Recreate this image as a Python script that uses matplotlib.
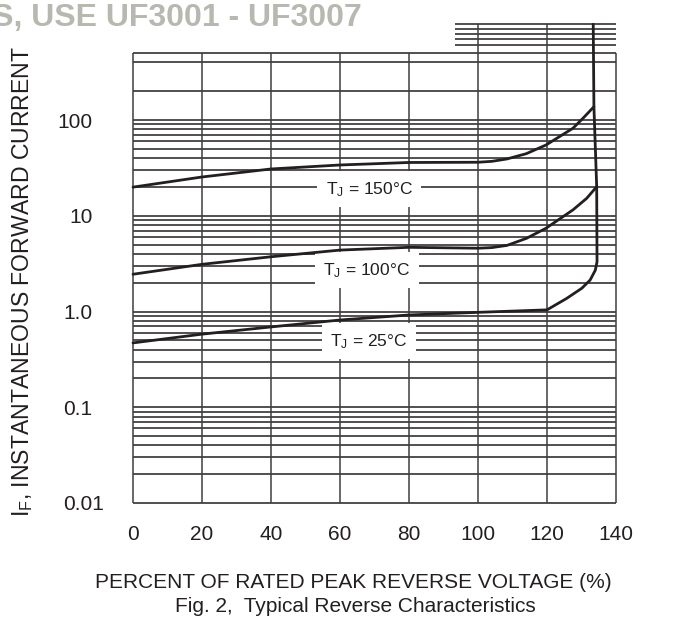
import matplotlib
matplotlib.use("Agg")
import matplotlib.pyplot as plt
import matplotlib.transforms as mtransforms

plt.rcParams['font.family'] = 'Liberation Sans'
plt.rcParams['mathtext.fontset'] = 'custom'
plt.rcParams['mathtext.rm'] = 'Liberation Sans'
plt.rcParams['mathtext.it'] = 'Liberation Sans'

ink = '#231f20'

# percent of rated peak reverse voltage
x_150 = [0, 20, 40, 60, 80, 100, 104, 108.4, 114, 119.7, 127.5, 130.4, 133.6]
i_150 = [19.9, 25.4, 30.8, 33.9, 36.0, 36.2, 37.0, 39.2, 44.5, 54.8, 81.9, 104, 137.6]

x_100 = [0, 20, 40, 60, 80, 100, 104, 108.4, 114, 119.7, 127.5, 131.5, 134.4]
i_100 = [2.45, 3.11, 3.73, 4.38, 4.68, 4.58, 4.65, 4.9, 5.8, 7.4, 11.5, 15.2, 20.1]

# 25 C curve runs on into the breakdown line at the right
x_25 = [0, 20, 40, 60, 80, 100, 120, 125.7, 130.1, 132.5, 134.0, 134.5, 134.4, 133.6, 133.4]
i_25 = [0.47, 0.58, 0.69, 0.815, 0.92, 0.98, 1.04, 1.37, 1.75, 2.13, 2.7, 3.3, 20.1, 137.6, 1000]

x_ticks = [0, 20, 40, 60, 80, 100, 120, 140]
y_ticks = [0.01, 0.1, 1, 10, 100]
y_tick_labels = ["0.01", "0.1", "1.0", "10", "100"]

# grid rulings of the printed chart paper
h_grid = [d * 10.0 ** k for k in range(-2, 2) for d in range(1, 10)] + [100, 200, 400, 500]
h_grid_top = [600, 700, 800, 900, 1000]

fig = plt.figure(figsize=(6.76, 6.26), dpi=100)
W, H = 676, 626
ax = fig.add_axes([133 / W, (H - 503) / H, 483 / W, 478.75 / H])
ax.set_yscale('log')
ax.set_xlim(0, 140)
ax.set_ylim(0.01, 1000)

ax.hlines(h_grid, 0, 140, color=ink, lw=1.1, zorder=1, clip_on=False)
ax.hlines(h_grid_top, 93.3, 140, color=ink, lw=1.1, zorder=1, clip_on=False)
ax.vlines(x_ticks, 0.01, 500, color='#3f3f3f', lw=1.1, zorder=1, clip_on=False)
ax.vlines([100, 120], 500, 1000, color='#3f3f3f', lw=1.1, zorder=1, clip_on=False)

for xs, ys in [(x_150, i_150), (x_100, i_100), (x_25, i_25)]:
    ax.plot(xs, ys, color=ink, lw=2.0, zorder=4, clip_on=False, solid_capstyle='round')

box = dict(facecolor='white', edgecolor='none', boxstyle='square,pad=0.5')
ax.text(68.4, 16.9, "T$_\\mathrm{J}$ = 150°C", ha='center', va='baseline', fontsize=12.5,
        color=ink, bbox=box, zorder=3)
ax.text(67.8, 2.40, "T$_\\mathrm{J}$ = 100°C", ha='center', va='baseline', fontsize=12.5,
        color=ink, bbox=box, zorder=3)
ax.text(68.4, 0.436, "T$_\\mathrm{J}$ = 25°C", ha='center', va='baseline', fontsize=12.5,
        color=ink, bbox=box, zorder=3)

for s in ax.spines.values():
    s.set_visible(False)
ax.set_xticks(x_ticks)
ax.set_xticklabels([str(v) for v in x_ticks])
ax.set_yticks(y_ticks)
ax.set_yticklabels(y_tick_labels)
ax.minorticks_off()
ax.tick_params(axis='both', length=0, labelsize=15, labelcolor=ink)
ax.tick_params(axis='x', pad=16)
ax.tick_params(axis='y', pad=29)
lab = ax.get_yticklabels()[0]
lab.set_transform(lab.get_transform() + mtransforms.ScaledTranslation(11 / 100, 0, fig.dpi_scale_trans))

fig.text(23 / W, 1 - 282 / H, "I$_\\mathrm{F}$, INSTANTANEOUS FORWARD CURRENT", rotation=90,
         ha='center', va='center', fontsize=16.6, color=ink)
fig.text(353 / W, 1 - 582 / H, "PERCENT OF RATED PEAK REVERSE VOLTAGE (%)",
         ha='center', va='center', fontsize=15, color=ink)
fig.text(355 / W, 1 - 607 / H, "Fig. 2,  Typical Reverse Characteristics",
         ha='center', va='center', fontsize=15, color=ink)
fig.text(362 / W, 1 - 26 / H, "NS, USE UF3001 - UF3007", ha='right', va='baseline',
         fontsize=23, fontweight='bold', color='#b8b8b0')

fig.savefig("out.png", dpi=100)
